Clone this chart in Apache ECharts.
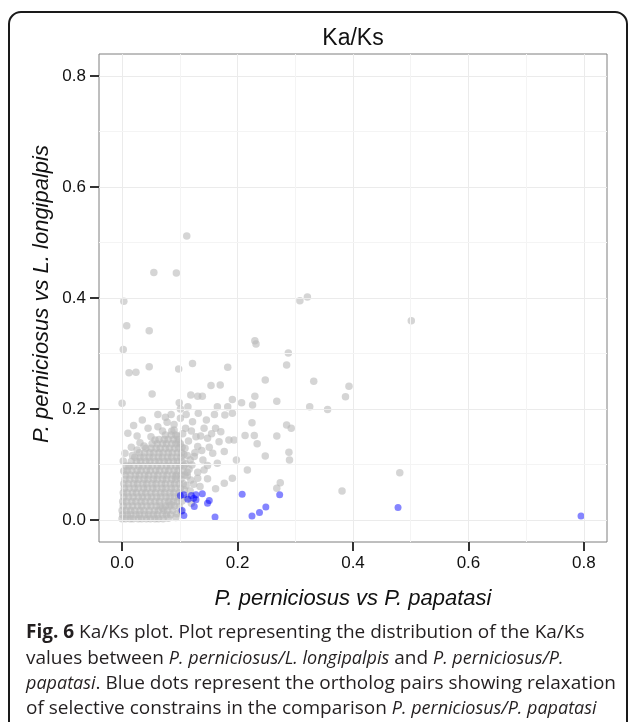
<!DOCTYPE html>
<html>
<head>
<meta charset="utf-8">
<script src="https://cdn.jsdelivr.net/npm/echarts@6/dist/echarts.min.js"></script>
<style>
html,body{margin:0;padding:0;background:#fff;}
#c{width:629px;height:722px;}
</style>
</head>
<body>
<div id="c"></div>
<script>
// ---- Data ----
const chartTitle = 'Ka/Ks';
const xAxisTitle = 'P. perniciosus vs P. papatasi';
const yAxisTitle = 'P. perniciosus vs L. longipalpis';
const tickValues = [0, 0.2, 0.4, 0.6, 0.8];
const minorValues = [0.1, 0.3, 0.5, 0.7];

// dense cloud of grey points, rows of [y, [x values]]
const greyCloudRows = [
  [0.002, [0.000,0.006,0.014,0.019,0.028,0.034,0.042,0.049,0.057,0.063,0.071]],
  [0.009, [0.001,0.009,0.015,0.024,0.030,0.039,0.046,0.054,0.061,0.070,0.077,0.084]],
  [0.017, [0.000,0.007,0.015,0.022,0.031,0.038,0.047,0.056,0.063,0.072,0.079,0.088]],
  [0.025, [0.002,0.010,0.018,0.027,0.034,0.043,0.050,0.059,0.066,0.075,0.082,0.091]],
  [0.033, [0.001,0.008,0.017,0.024,0.033,0.040,0.049,0.057,0.065,0.074,0.081,0.089,0.096]],
  [0.041, [0.003,0.011,0.019,0.028,0.035,0.044,0.051,0.060,0.067,0.076,0.083,0.091,0.098]],
  [0.049, [0.002,0.009,0.018,0.025,0.034,0.041,0.050,0.058,0.067,0.074,0.083,0.090,0.099]],
  [0.057, [0.004,0.012,0.021,0.028,0.037,0.044,0.053,0.060,0.069,0.076,0.085,0.092,0.101]],
  [0.065, [0.003,0.011,0.020,0.027,0.036,0.043,0.052,0.059,0.068,0.075,0.084,0.091,0.099,0.106]],
  [0.073, [0.005,0.013,0.022,0.029,0.038,0.045,0.054,0.061,0.070,0.077,0.086,0.093,0.102]],
  [0.081, [0.006,0.014,0.023,0.030,0.039,0.046,0.055,0.062,0.071,0.078,0.087,0.094,0.102,0.109]],
  [0.089, [0.009,0.017,0.026,0.033,0.042,0.049,0.058,0.065,0.074,0.081,0.090,0.097,0.105]],
  [0.097, [0.012,0.020,0.029,0.036,0.045,0.052,0.061,0.068,0.077,0.084,0.093,0.100,0.107]],
  [0.105, [0.016,0.025,0.032,0.041,0.048,0.057,0.064,0.073,0.080,0.089,0.096,0.104]],
  [0.113, [0.022,0.031,0.038,0.047,0.054,0.063,0.070,0.079,0.086,0.095,0.102]],
  [0.121, [0.030,0.039,0.048,0.055,0.064,0.071,0.080,0.087,0.096,0.103]],
  [0.129, [0.041,0.050,0.059,0.066,0.075,0.082,0.091,0.098]],
  [0.137, [0.052,0.061,0.070,0.077,0.086,0.093,0.101]],
  [0.145, [0.064,0.073,0.080,0.089,0.097]],
  [0.153, [0.075,0.085,0.093]]
];

// scattered grey points [x, y]
const greyScatter = [
  [0.112,0.512],[0.055,0.446],[0.094,0.445],[0.003,0.394],[0.008,0.350],[0.047,0.341],
  [0.002,0.307],[0.012,0.265],[0.024,0.266],[0.047,0.276],[0.098,0.272],[0.122,0.282],
  [0.154,0.242],[0.170,0.243],[0.183,0.275],[0.230,0.323],[0.232,0.317],[0.288,0.301],
  [0.285,0.279],[0.308,0.395],[0.321,0.402],[0.248,0.252],[0.332,0.250],[0.501,0.359],
  [0.393,0.241],[0.387,0.222],[0.481,0.085],[0.381,0.052],
  [0.000,0.210],[0.052,0.227],[0.325,0.204],[0.356,0.199],[0.268,0.214],[0.230,0.223],
  [0.226,0.207],[0.207,0.211],[0.191,0.217],[0.183,0.204],[0.119,0.225],[0.131,0.223],
  [0.139,0.223],[0.099,0.211],[0.114,0.204],[0.132,0.192],[0.165,0.204],[0.191,0.192],
  [0.178,0.189],[0.225,0.175],[0.285,0.171],[0.293,0.165],[0.213,0.152],[0.229,0.152],
  [0.268,0.151],[0.234,0.137],[0.289,0.122],[0.290,0.108],[0.248,0.115],[0.198,0.108],
  [0.274,0.067],[0.268,0.057],[0.010,0.156],[0.026,0.151],[0.045,0.165],[0.062,0.168],
  [0.075,0.185],[0.090,0.162],[0.185,0.144],[0.217,0.090],[0.191,0.075],[0.177,0.066],
  [0.162,0.056],[0.148,0.074],[0.131,0.075],[0.165,0.102],[0.142,0.090],[0.157,0.120],
  [0.177,0.123],[0.168,0.141],[0.148,0.147],[0.142,0.165],[0.162,0.165],[0.171,0.159],
  [0.194,0.144],[0.122,0.177],[0.109,0.129],[0.125,0.114],[0.102,0.015],[0.085,0.027],
  [0.070,0.021],[0.108,0.054],[0.119,0.072],[0.093,0.078],
  [0.005,0.120],[0.002,0.106],[0.016,0.131],[0.031,0.139],[0.050,0.150],[0.070,0.160],
  [0.090,0.172],[0.101,0.183],[0.111,0.190],[0.120,0.160],[0.115,0.142],[0.126,0.121],
  [0.131,0.132],[0.121,0.099],[0.131,0.086],[0.124,0.064],[0.116,0.091],[0.140,0.108],
  [0.151,0.131],[0.136,0.151],[0.101,0.200],[0.085,0.190],[0.146,0.180],[0.160,0.190],
  [0.155,0.155],[0.110,0.165],[0.128,0.150],[0.113,0.116],[0.138,0.125],[0.148,0.098],
  [0.112,0.040],[0.118,0.052],[0.135,0.060],[0.098,0.140],[0.105,0.155],[0.078,0.176],
  [0.093,0.004],[0.080,0.003],[0.120,0.030],[0.035,0.180],[0.020,0.170],[0.062,0.190],
  [0.111,0.062],[0.113,0.079],[0.110,0.101],[0.107,0.118],[0.104,0.131],[0.099,0.024],
  [0.095,0.011],[0.104,0.034],[0.113,0.086],[0.118,0.108],[0.096,0.151],[0.086,0.160],
  [0.007,0.097],[0.003,0.088],[0.018,0.116],[0.026,0.126],[0.038,0.133],[0.057,0.144]
];

// blue points (relaxed selective constraint) [x, y]
const bluePoints = [
  [0.795,0.007],[0.478,0.022],[0.208,0.046],[0.273,0.045],[0.249,0.023],[0.238,0.013],
  [0.225,0.007],[0.161,0.005],[0.107,0.008],[0.104,0.017],[0.125,0.024],[0.148,0.030],
  [0.151,0.035],[0.139,0.047],[0.128,0.045],[0.124,0.039],[0.114,0.037],[0.107,0.045],
  [0.101,0.044],[0.128,0.036],[0.120,0.044]
];

const captionLines = [
  [['b','Fig. 6'],['n',' Ka/Ks plot. Plot representing the distribution of the Ka/Ks']],
  [['n','values between '],['i','P. perniciosus/L. longipalpis'],['n',' and '],['i','P. perniciosus/P.']],
  [['i','papatasi'],['n','. Blue dots represent the ortholog pairs showing relaxation']],
  [['n','of selective constrains in the comparison '],['i','P. perniciosus/P. papatasi']]
];

// ---- Build ----
const greyPoints = [];
greyCloudRows.forEach(r => r[1].forEach(x => greyPoints.push([x, r[0]])));
greyScatter.forEach(p => greyPoints.push(p));

const FONT = '"Liberation Sans", Arial, Helvetica, sans-serif';
const CAPFONT = '"Open Sans", "Noto Sans", sans-serif';

const grid = {left: 99, top: 54, width: 508, height: 488};

const gridLineData = [];
tickValues.forEach(v => { gridLineData.push({xAxis: v, lineStyle:{color:'#ebebeb'}}); gridLineData.push({yAxis: v, lineStyle:{color:'#ebebeb'}}); });
minorValues.forEach(v => { gridLineData.push({xAxis: v, lineStyle:{color:'#f4f4f4'}}); gridLineData.push({yAxis: v, lineStyle:{color:'#f4f4f4'}}); });

function axisCfg(isX) {
  return {
    type: 'value', min: -0.04, max: 0.84,
    axisLine: {show: false, onZero: false},
    axisTick: {show: true, customValues: tickValues, length: 9, lineStyle: {color: '#333', width: 2}},
    axisLabel: {show: true, customValues: tickValues, margin: 13, color: '#111',
      fontFamily: FONT, fontSize: 17, formatter: v => v.toFixed(1)},
    splitLine: {show: false}
  };
}

const chart = echarts.init(document.getElementById('c'), null, {renderer: 'canvas'});

const captionRich = {
  b: {fontFamily: CAPFONT, fontSize: 19, fontWeight: 'bold', fill: '#231f20'},
  n: {fontFamily: CAPFONT, fontSize: 19, fill: '#231f20'},
  i: {fontFamily: CAPFONT, fontSize: 18, fontStyle: 'italic', fill: '#231f20'}
};
const captionY = [636, 662, 687, 712];
const captionGraphics = captionLines.map((line, i) => ({
  type: 'text', left: 26, top: captionY[i] - 13,
  style: {
    text: line.map(s => '{' + s[0] + '|' + s[1] + '}').join(''),
    rich: captionRich
  }
}));

chart.setOption({
  animation: false,
  backgroundColor: '#fff',
  grid: Object.assign({show: true, borderColor: '#7f7f7f', borderWidth: 1, backgroundColor: '#fff'}, grid),
  xAxis: axisCfg(true),
  yAxis: axisCfg(false),
  series: [
    {
      type: 'scatter', data: [], z: 1, silent: true,
      markLine: {silent: true, symbol: 'none', label: {show: false}, animation: false,
        lineStyle: {type: 'solid', width: 1}, data: gridLineData}
    },
    {
      type: 'scatter', data: greyPoints, symbolSize: 7.5, z: 2,
      itemStyle: {color: 'rgba(185,185,185,0.75)'}
    },
    {
      type: 'scatter', data: bluePoints, symbolSize: 7, z: 3,
      itemStyle: {color: 'rgba(0,0,255,0.6)'}
    }
  ],
  graphic: [
    {type: 'rect', z: 100, shape: {x: 9, y: 12, width: 618, height: 760, r: 12},
      style: {fill: 'none', stroke: '#1a1a1a', lineWidth: 2}},
    {type: 'text', z: 100, x: 353, y: 39, style: {text: chartTitle, textAlign: 'center', textVerticalAlign: 'middle',
      font: '23px ' + FONT, fill: '#111'}},
    {type: 'text', z: 100, x: 353, y: 599, style: {text: xAxisTitle, textAlign: 'center', textVerticalAlign: 'middle',
      font: 'italic 22px ' + FONT, fill: '#111'}},
    {type: 'text', z: 100, x: 42, y: 294, rotation: Math.PI / 2, style: {text: yAxisTitle, textAlign: 'center', textVerticalAlign: 'middle',
      font: 'italic 22px ' + FONT, fill: '#111'}}
  ].concat(captionGraphics)
});
</script>
</body>
</html>
